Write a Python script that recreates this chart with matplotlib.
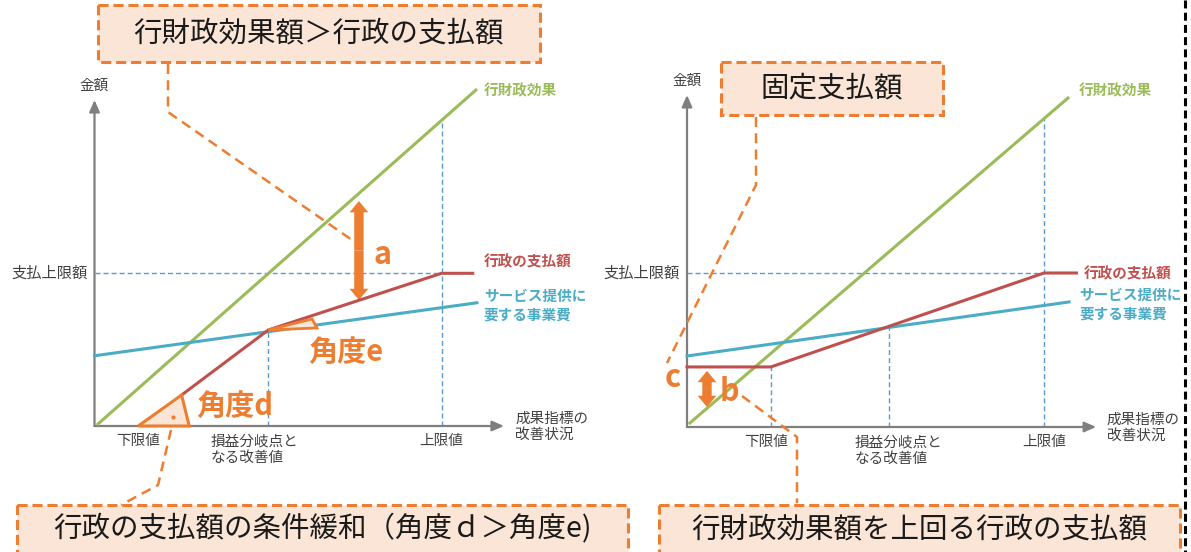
import matplotlib
matplotlib.use('Agg')
import matplotlib.pyplot as plt
import matplotlib.patches as mpatches

plt.rcParams['font.family'] = ['Noto Sans CJK JP', 'DejaVu Sans']

W, H = 1191, 552

GREEN = '#9bbb59'
RED = '#c0504d'
BLUE = '#4bacc6'
ORANGE = '#ed7d31'
PEACH = '#fbe5d6'
GRAY = '#7f7f7f'
GUIDE = '#5b9bd5'
TXT = '#404040'

# ---- 左図：行政の支払額の条件緩和 ----
L_effect_x = [1.0, 109.9]
L_effect_y = [1.3, 220.0]
L_cost_x = [0.0, 110.2]
L_cost_y = [46.0, 80.7]
L_pay_x = [25.1, 50.1, 100.0, 109.0]
L_pay_y = [20.3, 62.9, 100.0, 100.0]
L_cap = 100.0
L_breakeven = 50.1
L_upper = 100.0
L_tick_pos = [12.6, 46.0, 100.0]
L_angle_d_x = [12.6, 27.3, 25.1]
L_angle_d_y = [0.0, 0.0, 20.3]
L_angle_e_x = [50.1, 62.7, 64.1]
L_angle_e_y = [62.9, 70.1, 64.2]
L_gap_a = [82.5, 147.3]   # 矢印a（行政の支払額 → 行財政効果）
L_gap_a_x = 76.2

# ---- 右図：固定支払額 ----
R_effect_x = [0.8, 106.7]
R_effect_y = [2.6, 213.6]
R_cost_x = [0.0, 107.0]
R_cost_y = [46.1, 81.2]
R_pay_x = [0.0, 23.5, 100.0, 109.1]
R_pay_y = [39.0, 39.0, 100.0, 100.0]
R_cap = 100.0
R_lower = 23.5
R_breakeven = 56.6
R_upper = 100.0
R_tick_pos = [22.2, 59.1, 100.0]
R_gap_b = [13.0, 36.4]
R_gap_b_x = 5.6

tick_labels = ['下限値', '損益分岐点と\nなる改善値', '上限値']

fig = plt.figure(figsize=(W / 100, H / 100), dpi=100)


def panel(ox, oy, sx, sy, xmax=120, ymax=228):
    ax = fig.add_axes([ox / W, (H - oy) / H, sx * xmax / W, sy * ymax / H])
    ax.set_xlim(0, xmax)
    ax.set_ylim(0, ymax)
    ax.axis('off')
    ax.patch.set_visible(False)
    return ax


def axes_arrows(ax, xend, yend):
    kw = dict(arrowstyle='-|>,head_length=0.5,head_width=0.22', color=GRAY,
              lw=1.6, shrinkA=0, shrinkB=0, mutation_scale=14)
    ax.annotate('', xy=(xend, 0), xytext=(0, 0), arrowprops=kw, annotation_clip=False)
    ax.annotate('', xy=(0, yend), xytext=(0, 0), arrowprops=kw, annotation_clip=False)


def double_arrow(ax, x, y0, y1):
    ym = (y0 + y1) / 2
    for yt in (y0, y1):
        ax.annotate('', xy=(x, yt), xytext=(x, ym), annotation_clip=False,
                    arrowprops=dict(arrowstyle='simple,head_length=0.9,head_width=1.5,tail_width=0.75',
                                    color=ORANGE, lw=0, shrinkA=0, shrinkB=0, mutation_scale=9))


def guide(ax, xs, ys):
    ax.plot(xs, ys, color=GUIDE, lw=1.0, linestyle=(0, (3.6, 2.2)), clip_on=False, zorder=1)


def common(ax, effect, cost, pay, tick_pos, yend):
    ax.plot(*effect, color=GREEN, lw=2.2, clip_on=False, zorder=3)
    ax.plot(*cost, color=BLUE, lw=2.2, clip_on=False, zorder=3)
    ax.plot(*pay, color=RED, lw=2.2, clip_on=False, zorder=4)
    for x, lab in zip(tick_pos, tick_labels):
        ax.annotate(lab, xy=(x, 0), xytext=(0, -6), textcoords='offset points',
                    ha='center', va='top', fontsize=10.5, color=TXT,
                    multialignment='left', linespacing=1.25, annotation_clip=False)
    ax.annotate('支払上限額', xy=(0, 100), xytext=(-5, 0), textcoords='offset points',
                ha='right', va='center', fontsize=11, color=TXT, annotation_clip=False)
    ax.annotate('金額', xy=(0, yend), xytext=(0, 5), textcoords='offset points',
                ha='center', va='bottom', fontsize=10.5, color=TXT, annotation_clip=False)


# 左図
axL = panel(94.5, 426, 3.47, 1.527)
axes_arrows(axL, 118, 213.5)
guide(axL, [0, L_upper], [L_cap, L_cap])
guide(axL, [L_upper, L_upper], [0, 200])
guide(axL, [L_breakeven, L_breakeven], [0, 62.9])
common(axL, (L_effect_x, L_effect_y), (L_cost_x, L_cost_y), (L_pay_x, L_pay_y), L_tick_pos, 213.5)
axL.fill(L_angle_d_x, L_angle_d_y, facecolor=PEACH, edgecolor=ORANGE, lw=2.2, clip_on=False, zorder=5)
axL.plot([22.7], [6.1], 'o', color=ORANGE, ms=2, zorder=6)
axL.fill(L_angle_e_x, L_angle_e_y, facecolor=PEACH, edgecolor=ORANGE, lw=2.0, clip_on=False, zorder=5)
double_arrow(axL, L_gap_a_x, L_gap_a[0], L_gap_a[1])
axL.text(112.2, 220, '行財政効果', color=GREEN, fontsize=10.5, fontweight='bold', va='center')
axL.text(112.2, 108, '行政の支払額', color=RED, fontsize=10.5, fontweight='bold', va='center')
axL.text(112.2, 79.2, 'サービス提供に\n要する事業費', color=BLUE, fontsize=10.5,
         fontweight='bold', va='center', linespacing=1.2)
axL.text(121.2, -0.3, '成果指標の\n改善状況', color=TXT, fontsize=10.5, va='center', linespacing=1.2)
axL.text(82.9, 112, 'a', color=ORANGE, fontsize=22, fontweight='bold', ha='center', va='center')
axL.text(72.5, 48.5, '角度e', color=ORANGE, fontsize=21, fontweight='bold', ha='center', va='center')
axL.text(40.3, 13.1, '角度d', color=ORANGE, fontsize=21, fontweight='bold', ha='center', va='center')

# 右図
axR = panel(687, 427, 3.57, 1.54)
axes_arrows(axR, 114.6, 215.6)
guide(axR, [0, R_upper], [R_cap, R_cap])
guide(axR, [R_upper, R_upper], [0, 200])
guide(axR, [R_breakeven, R_breakeven], [0, 65.0])
guide(axR, [R_lower, R_lower], [0, 39.0])
common(axR, (R_effect_x, R_effect_y), (R_cost_x, R_cost_y), (R_pay_x, R_pay_y), R_tick_pos, 215.6)
double_arrow(axR, R_gap_b_x, R_gap_b[0], R_gap_b[1])
axR.text(109.8, 218.8, '行財政効果', color=GREEN, fontsize=10.5, fontweight='bold', va='center')
axR.text(111.2, 100, '行政の支払額', color=RED, fontsize=10.5, fontweight='bold', va='center')
axR.text(109.8, 79.5, 'サービス提供に\n要する事業費', color=BLUE, fontsize=10.5,
         fontweight='bold', va='center', linespacing=1.2)
axR.text(117.6, -0.3, '成果指標の\n改善状況', color=TXT, fontsize=10.5, va='center', linespacing=1.2)
axR.text(12.0, 22.7, 'b', color=ORANGE, fontsize=22, fontweight='bold', ha='center', va='center')
axR.text(-3.9, 31.8, 'c', color=ORANGE, fontsize=22, fontweight='bold', ha='center', va='center')

# 吹き出しと引き出し線（ピクセル座標）
ov = fig.add_axes([0, 0, 1, 1])
ov.set_xlim(0, W)
ov.set_ylim(H, 0)
ov.axis('off')
ov.patch.set_visible(False)

callouts = [
    (98, 5, 442, 57, '行財政効果額＞行政の支払額'),
    (721, 62, 222, 53, '固定支払額'),
    (17, 505, 611, 60, '行政の支払額の条件緩和（角度ｄ＞角度e)'),
    (659, 505, 521, 60, '行財政効果額を上回る行政の支払額'),
]
for x, y, w, h, label in callouts:
    ov.add_patch(mpatches.Rectangle((x, y), w, h, facecolor=PEACH, edgecolor=ORANGE,
                                    lw=2.2, linestyle=(0, (3.3, 1.6))))
    ty = y + h / 2 if h < 58 else 529
    ov.text(x + w / 2, ty, label, ha='center', va='center', fontsize=20.5, color='#1a1a1a')

leaders = [
    ([168, 168, 352], [64, 112, 240]),
    ([171, 158, 121], [430, 485, 505]),
    ([756, 756, 667], [117, 185, 363]),
    ([742, 797, 797], [396, 437, 503]),
]
for xs, ys in leaders:
    ov.plot(xs, ys, color=ORANGE, lw=1.8, linestyle=(0, (4.0, 2.5)))

# 右端の区切り線
ov.plot([1185, 1185], [0, H], color='black', lw=2.2, linestyle=(0, (2.6, 1.4)))

fig.savefig('out.png', dpi=100)
